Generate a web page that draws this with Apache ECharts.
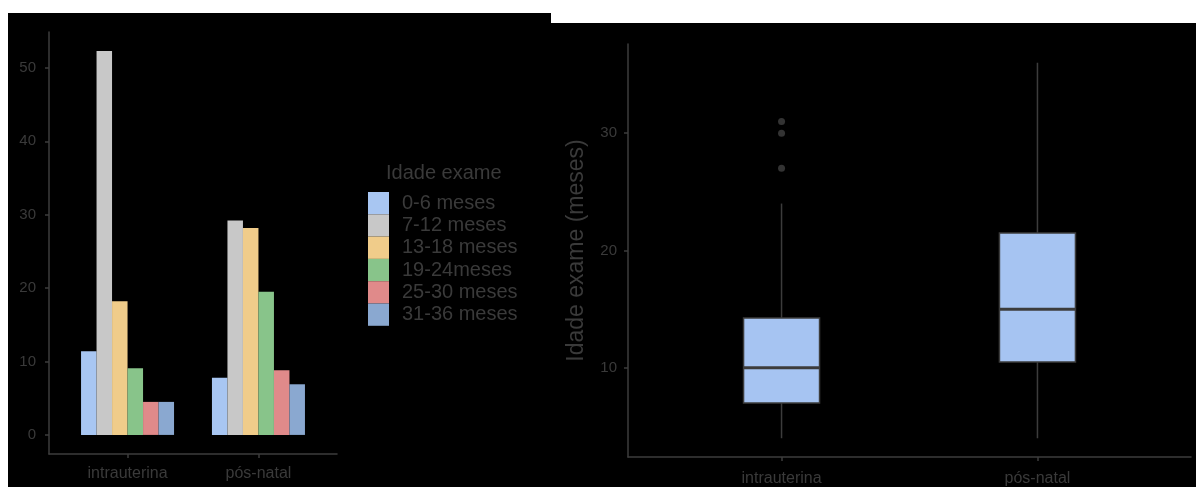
<!DOCTYPE html>
<html>
<head>
<meta charset="utf-8">
<script src="https://cdn.jsdelivr.net/npm/echarts@6/dist/echarts.min.js"></script>
<style>
  html, body { margin: 0; padding: 0; background: #ffffff; }
  #chart { width: 1196px; height: 487px; }
</style>
</head>
<body>
<div id="chart"></div>
<script>
// dados
var grupos = ['intrauterina', 'pós-natal'];
var faixas = ['0-6 meses', '7-12 meses', '13-18 meses', '19-24meses', '25-30 meses', '31-36 meses'];
var pctIntra = [11.4, 52.3, 18.2, 9.1, 4.5, 4.5];
var pctPos = [7.8, 29.2, 28.2, 19.5, 8.8, 6.9];
var coresFaixa = ['#a8c6f2', '#c8c8c8', '#f0cc8a', '#88c48a', '#e08a8a', '#8aa8d0'];
// boxplot: [grupo, min, Q1, mediana, Q3, max]
var caixas = [
    [1, 4, 7, 10, 14.25, 24],
    [2, 4, 10.5, 15, 21.5, 36]
];
var outliers = [[1, 27], [1, 30], [1, 31]];
var ticksBar = [0, 10, 20, 30, 40, 50];
var ticksBox = [10, 20, 30];

var txt = '#3a3a3a';
var linha = '#3c3c3c';
var fonte = '"Liberation Sans", Arial, sans-serif';

function nomeGrupo(v) {
    return grupos[Math.round(v) - 1] || '';
}

var chart = echarts.init(document.getElementById('chart'));

var series = [];
for (var i = 0; i < faixas.length; i++) {
    series.push({
        name: faixas[i],
        type: 'bar',
        xAxisIndex: 0,
        yAxisIndex: 0,
        barWidth: 15.5,
        barGap: '0%',
        itemStyle: { color: coresFaixa[i] },
        data: [[1, pctIntra[i]], [2, pctPos[i]]]
    });
}

series.push({
    type: 'custom',
    xAxisIndex: 1,
    yAxisIndex: 1,
    encode: { x: 0, y: [1, 2, 3, 4, 5] },
    data: caixas,
    renderItem: function (params, api) {
        var x = api.value(0);
        var lo = api.coord([x, api.value(1)]);
        var q1 = api.coord([x, api.value(2)]);
        var md = api.coord([x, api.value(3)]);
        var q3 = api.coord([x, api.value(4)]);
        var hi = api.coord([x, api.value(5)]);
        var hw = 38;
        return {
            type: 'group',
            children: [
                { type: 'line', shape: { x1: lo[0], y1: lo[1], x2: hi[0], y2: hi[1] },
                  style: { stroke: linha, lineWidth: 1.5 } },
                { type: 'rect', shape: { x: q3[0] - hw, y: q3[1], width: hw * 2, height: q1[1] - q3[1] },
                  style: { fill: '#a6c4f2', stroke: linha, lineWidth: 1.5 } },
                { type: 'line', shape: { x1: md[0] - hw, y1: md[1], x2: md[0] + hw, y2: md[1] },
                  style: { stroke: linha, lineWidth: 3 } }
            ]
        };
    }
});

series.push({
    type: 'scatter',
    xAxisIndex: 1,
    yAxisIndex: 1,
    symbolSize: 7,
    itemStyle: { color: '#404040' },
    data: outliers
});

var option = {
    animation: false,
    textStyle: { fontFamily: fonte },
    graphic: [
        { type: 'rect', z: -10, shape: { x: 8, y: 13, width: 543, height: 474 }, style: { fill: '#000' } },
        { type: 'rect', z: -10, shape: { x: 551, y: 23, width: 645, height: 464 }, style: { fill: '#000' } }
    ],
    title: {
        text: 'Idade exame',
        left: 386,
        top: 163,
        padding: 0,
        textStyle: { fontSize: 20, fontWeight: 'normal', color: txt, fontFamily: fonte }
    },
    legend: {
        data: faixas,
        orient: 'vertical',
        left: 368,
        top: 192,
        padding: 0,
        itemGap: 0,
        itemWidth: 21,
        itemHeight: 22.3,
        icon: 'rect',
        selectedMode: false,
        textStyle: { fontSize: 20, color: txt, lineHeight: 22, padding: [0, 0, 0, 8], fontFamily: fonte }
    },
    grid: [
        { left: 49, top: 32, width: 288, height: 422 },
        { left: 628, top: 44, width: 563, height: 413 }
    ],
    xAxis: [
        {
            gridIndex: 0, type: 'value', min: 0.4, max: 2.6,
            splitLine: { show: false },
            axisLine: { show: true, onZero: false, lineStyle: { color: linha, width: 1.5 } },
            axisTick: { show: true, customValues: [1, 2], length: 4, lineStyle: { color: linha, width: 1.5 } },
            axisLabel: { customValues: [1, 2], formatter: nomeGrupo, color: txt, fontSize: 16, margin: 12 }
        },
        {
            gridIndex: 1, type: 'value', min: 0.4, max: 2.6,
            splitLine: { show: false },
            axisLine: { show: true, onZero: false, lineStyle: { color: linha, width: 1.5 } },
            axisTick: { show: true, customValues: [1, 2], length: 4, lineStyle: { color: linha, width: 1.5 } },
            axisLabel: { customValues: [1, 2], formatter: nomeGrupo, color: txt, fontSize: 16, margin: 14 }
        }
    ],
    yAxis: [
        {
            gridIndex: 0, type: 'value', min: -2.6, max: 54.9,
            splitLine: { show: false },
            axisLine: { show: true, onZero: false, lineStyle: { color: linha, width: 1.5 } },
            axisTick: { show: true, customValues: ticksBar, length: 4, lineStyle: { color: linha, width: 1.5 } },
            axisLabel: { customValues: ticksBar, color: txt, fontSize: 15, margin: 13 }
        },
        {
            gridIndex: 1, type: 'value', min: 2.4, max: 37.6,
            name: 'Idade exame (meses)',
            nameLocation: 'middle',
            nameGap: 40,
            nameTextStyle: { color: txt, fontSize: 23, fontFamily: fonte },
            splitLine: { show: false },
            axisLine: { show: true, onZero: false, lineStyle: { color: linha, width: 1.5 } },
            axisTick: { show: true, customValues: ticksBox, length: 4, lineStyle: { color: linha, width: 1.5 } },
            axisLabel: { customValues: ticksBox, color: txt, fontSize: 15, margin: 11 }
        }
    ],
    series: series
};

chart.setOption(option);
</script>
</body>
</html>
